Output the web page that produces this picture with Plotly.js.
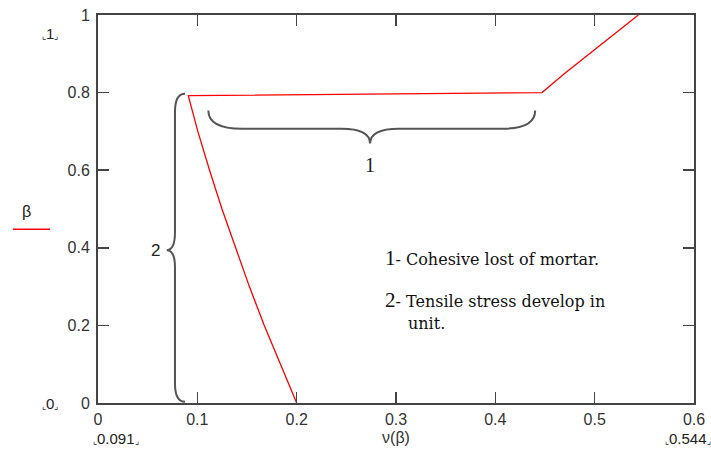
<!DOCTYPE html>
<html>
<head>
<meta charset="utf-8">
<script src="https://cdn.plot.ly/plotly-3.0.1.min.js"></script>
<style>html,body{margin:0;padding:0;background:#fff;}#plot{width:711px;height:459px;}</style>
</head>
<body>
<div id="plot"></div>
<script>
// ν(β) values (x) against β (y)
const nu = [0.2000, 0.1833, 0.1674, 0.1524, 0.1382, 0.1248, 0.1123, 0.1005, 0.0909,
            0.180, 0.358, 0.447, 0.470, 0.495, 0.519, 0.544];
const beta = [0.000, 0.100, 0.200, 0.300, 0.400, 0.500, 0.600, 0.700, 0.792,
              0.794, 0.797, 0.800, 0.850, 0.900, 0.950, 1.000];
const xTicks = [0, 0.1, 0.2, 0.3, 0.4, 0.5, 0.6];
const yTicks = [0, 0.2, 0.4, 0.6, 0.8, 1];
const xLimits = ["0.091", "0.544"];
const yLimits = ["0", "1"];
const note1 = "Cohesive lost of mortar.";
const note2a = "Tensile stress develop in";
const note2b = "unit.";

// pixel -> paper helpers (plot area: x 98..694, y 14.5..403)
const L = 98, R = 694, T = 14.5, B = 403;
const px = x => (x - L) / (R - L);
const py = y => (B - y) / (B - T);

const sans = 'Liberation Sans, Arial, sans-serif';
const serif = 'Liberation Serif, Times New Roman, serif';
const wideSerif = 'DejaVu Serif, serif';

const axisCommon = {
  showgrid: false, zeroline: false, showline: true, mirror: 'ticks',
  linecolor: '#444', linewidth: 2, ticks: 'inside', ticklen: 11, tickwidth: 1.5,
  tickcolor: '#444', tickfont: {family: sans, size: 16, color: '#333'}
};

const corner = s => '<span style="font-size:9px">⌞</span>' + s + '<span style="font-size:9px">⌟</span>';

function note(x, y, text, font, xanchor) {
  return {xref: 'paper', yref: 'paper', x: px(x), y: py(y), text: text, showarrow: false,
          xanchor: xanchor || 'center', yanchor: 'middle', font: font};
}

const layout = {
  width: 711, height: 459,
  margin: {l: L, r: 711 - R, t: T, b: 459 - B, pad: 0},
  paper_bgcolor: '#fff', plot_bgcolor: '#fff', showlegend: false,
  xaxis: Object.assign({}, axisCommon, {range: [0, 0.6], tickvals: xTicks, ticktext: xTicks.map(String), ticklabelstandoff: 1,
    title: {text: 'ν(β)', font: {family: sans, size: 16, color: '#333'}, standoff: 5}}),
  yaxis: Object.assign({}, axisCommon, {range: [0, 1], tickvals: yTicks, ticktext: yTicks.map(String), ticklabelstandoff: 3}),
  shapes: [
    // brace 2 (vertical)
    {type: 'path', xref: 'x', yref: 'y', line: {color: '#555', width: 2},
     path: 'M 0.0876,0.797 Q 0.0775,0.797 0.0775,0.75 L 0.0775,0.44 Q 0.0775,0.394 0.0692,0.394 Q 0.0775,0.394 0.0775,0.35 L 0.0775,0.05 Q 0.0775,0.003 0.0876,0.003'},
    // brace 1 (horizontal)
    {type: 'path', xref: 'x', yref: 'y', line: {color: '#555', width: 2},
     path: 'M 0.1111,0.754 Q 0.1111,0.707 0.145,0.707 L 0.245,0.707 Q 0.2739,0.707 0.2739,0.6685 Q 0.2739,0.707 0.303,0.707 L 0.407,0.707 Q 0.4401,0.707 0.4401,0.754'},
    // legend line under β
    {type: 'line', xref: 'paper', yref: 'paper', x0: px(13), x1: px(50), y0: py(229), y1: py(229), line: {color: '#ff0000', width: 1.5}}
  ],
  annotations: [
    note(26, 211, 'β', {family: sans, size: 16, color: '#222'}),
    note(50, 33, corner(yLimits[1]), {family: sans, size: 15, color: '#222'}),
    note(50, 403, corner(yLimits[0]), {family: sans, size: 15, color: '#222'}),
    note(116, 439, corner(xLimits[0]), {family: sans, size: 15, color: '#222'}),
    note(688, 439, corner(xLimits[1]), {family: sans, size: 15, color: '#222'}),
    note(370, 165, '1', {family: serif, size: 20, color: '#222'}),
    note(155, 250, '2', {family: sans, size: 17, color: '#222'}),
    note(383, 258, '<span style="font-family:Liberation Serif;font-size:21px">1</span>- ' + note1, {family: wideSerif, size: 16, color: '#111'}, 'left'),
    note(383, 300, '<span style="font-family:Liberation Serif;font-size:21px">2</span>- ' + note2a, {family: wideSerif, size: 16, color: '#111'}, 'left'),
    note(406, 323, note2b, {family: wideSerif, size: 16, color: '#111'}, 'left')
  ]
};

const trace = {x: nu, y: beta, type: 'scatter', mode: 'lines', line: {color: '#ff0000', width: 1.3}, cliponaxis: false};
Plotly.newPlot('plot', [trace], layout, {staticPlot: true, displayModeBar: false});
</script>
</body>
</html>
